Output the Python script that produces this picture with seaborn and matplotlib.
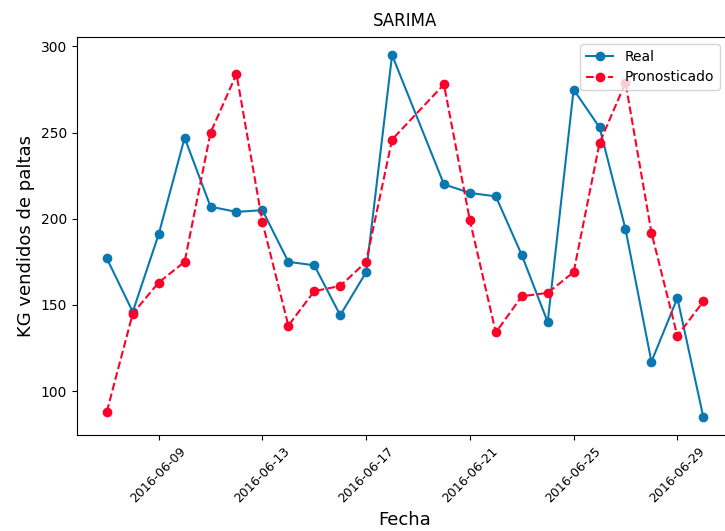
import matplotlib
matplotlib.use("Agg")
import matplotlib.pyplot as plt
import matplotlib.dates as mdates
import pandas as pd
import seaborn as sns

fechas = ["2016-06-07", "2016-06-08", "2016-06-09", "2016-06-10", "2016-06-11",
          "2016-06-12", "2016-06-13", "2016-06-14", "2016-06-15", "2016-06-16",
          "2016-06-17", "2016-06-18", "2016-06-20", "2016-06-21", "2016-06-22",
          "2016-06-23", "2016-06-24", "2016-06-25", "2016-06-26", "2016-06-27",
          "2016-06-28", "2016-06-29", "2016-06-30"]
real = [177, 146, 191, 247, 207, 204, 205, 175, 173, 144, 169, 295,
        220, 215, 213, 179, 140, 275, 253, 194, 117, 154, 85]
pronosticado = [88, 145, 163, 175, 250, 284, 198, 138, 158, 161, 175, 246,
                278, 199, 134, 155, 157, 169, 244, 279, 192, 132, 152]

df = pd.DataFrame({"Fecha": pd.to_datetime(fechas),
                   "Real": real,
                   "Pronosticado": pronosticado})

fig = plt.figure(figsize=(7.25, 5.31), dpi=100)
ax = fig.add_axes([0.1062, 0.1808, 0.905, 0.7495])

sns.lineplot(data=df, x="Fecha", y="Real", ax=ax, color="#0a78b0",
             marker="o", markersize=7, markeredgewidth=0, linewidth=1.5,
             label="Real")
sns.lineplot(data=df, x="Fecha", y="Pronosticado", ax=ax, color="#ff0028",
             marker="o", markersize=7, markeredgewidth=0, linewidth=1.5,
             linestyle="--", label="Pronosticado")

# ticks every four days inside June
ax.xaxis.set_major_locator(mdates.DayLocator(bymonthday=[9, 13, 17, 21, 25, 29]))
ax.xaxis.set_major_formatter(mdates.DateFormatter("%Y-%m-%d"))
plt.setp(ax.get_xticklabels(), rotation=45, fontsize=9)
ax.tick_params(axis="y", labelsize=10)

ax.set_title("SARIMA", fontsize=12, pad=8)
ax.set_xlabel("Fecha", fontsize=13)
ax.set_ylabel("KG vendidos de paltas", fontsize=13)
ax.legend(loc="upper right", fontsize=10, bbox_to_anchor=(0.99, 1.0))

fig.savefig("out.png", dpi=100)
